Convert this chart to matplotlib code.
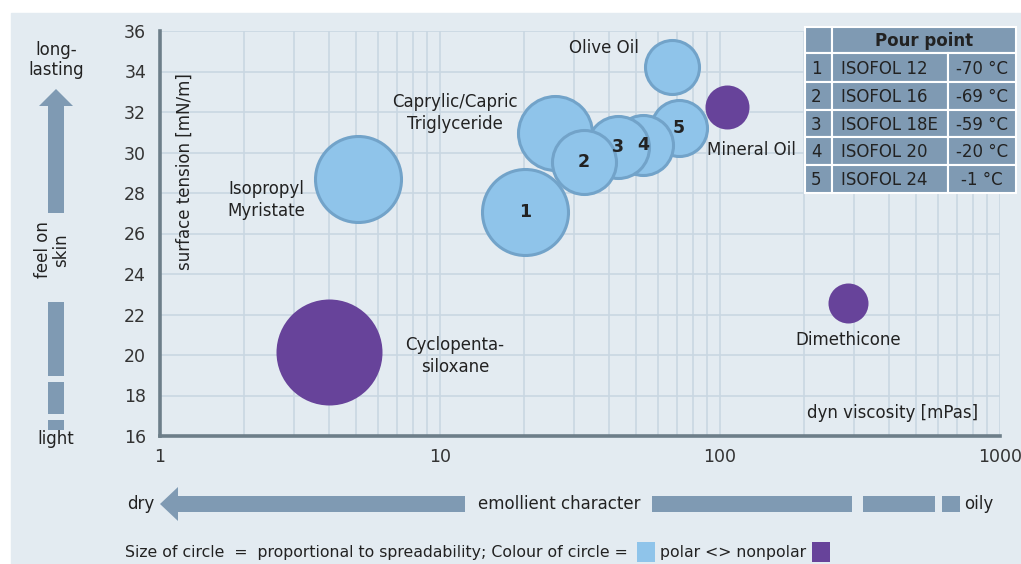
import matplotlib.pyplot as plt
import matplotlib.ticker as ticker
from matplotlib.patches import Rectangle, Polygon

plt.rcParams['font.family'] = ['DejaVu Sans', 'Noto Sans']

# bubbles (drawing order: back to front)
names = ['Isopropyl Myristate', 'Cyclopentasiloxane', 'Caprylic/Capric Triglyceride',
         'ISOFOL 24', 'ISOFOL 20', 'ISOFOL 18E', 'ISOFOL 16', 'ISOFOL 12',
         'Olive Oil', 'Mineral Oil', 'Dimethicone']
viscosity = [5.1, 4.0, 25.7, 71.4, 53.1, 43.2, 32.7, 20.1, 67.4, 106, 286]
tension = [28.7, 20.15, 30.96, 31.21, 30.37, 30.27, 29.53, 27.06, 34.22, 32.25, 22.57]
spread = [43, 53, 37, 28, 30, 31, 32, 43, 27, 22, 20]   # relative circle radius
polar = [True, False, True, True, True, True, True, True, True, False, False]
numbers = ['', '', '', '5', '4', '3', '2', '1', '', '', '']

# pour point table
pp_num = ['1', '2', '3', '4', '5']
pp_name = ['ISOFOL 12', 'ISOFOL 16', 'ISOFOL 18E', 'ISOFOL 20', 'ISOFOL 24']
pp_temp = ['-70 °C', '-69 °C', '-59 °C', '-20 °C', '-1 °C']

x_ticks = [1, 10, 100, 1000]
y_ticks = list(range(16, 37, 2))

LIGHT = '#8fc4ea'
EDGE = '#72a3c9'
PURPLE = '#67439a'
SLATE = '#7f9ab3'
BG = '#e3ebf1'
GRID = '#c9d7e2'
TXT = '#222222'

W, H = 1021, 564
fig = plt.figure(figsize=(W / 100, H / 100), dpi=100)
fig.patch.set_facecolor('white')


def P(x, y):
    return (x / W, 1 - y / H)


fig.add_artist(Rectangle(P(11, 564), (W - 11) / W, (H - 13) / H,
                         transform=fig.transFigure, color=BG, zorder=-5))

ax = fig.add_axes([160 / W, 1 - 436 / H, 840 / W, 405 / H])
ax.set_facecolor('none')
ax.set_xscale('log')
ax.set_xlim(1, 1000)
ax.set_ylim(16, 36)
ax.set_xticks(x_ticks)
ax.xaxis.set_major_formatter(ticker.FuncFormatter(lambda v, p: '%d' % v))
ax.xaxis.set_minor_formatter(ticker.NullFormatter())
ax.set_yticks(y_ticks)
ax.tick_params(which='both', length=0, labelsize=12.5, colors='#333333')
ax.tick_params(axis='y', pad=10)
ax.tick_params(axis='x', pad=9)
ax.grid(which='both', color=GRID, lw=1.2)
ax.set_axisbelow(True)
for s in ['top', 'right']:
    ax.spines[s].set_visible(False)
for s in ['left', 'bottom']:
    ax.spines[s].set_color('#6d7e89')
    ax.spines[s].set_linewidth(2.6)

for i in range(len(names)):
    size = (1.44 * spread[i]) ** 2
    if polar[i]:
        ax.scatter(viscosity[i], tension[i], s=size, color=LIGHT, edgecolor=EDGE,
                   linewidth=2.2, zorder=3 + i, clip_on=False)
    else:
        ax.scatter(viscosity[i], tension[i], s=size, color=PURPLE, linewidth=0,
                   zorder=3 + i, clip_on=False)
    if numbers[i]:
        ax.text(viscosity[i], tension[i], numbers[i], ha='center', va='center',
                fontsize=12.5, fontweight='bold', color=TXT, zorder=20)

lab = dict(fontsize=12, color=TXT, zorder=20)
ax.text(38.5, 35.16, 'Olive Oil', ha='center', va='center', **lab)
ax.text(11.3, 31.95, 'Caprylic/Capric\nTriglyceride', ha='center', va='center',
        linespacing=1.3, **lab)
ax.text(2.39, 27.65, 'Isopropyl\nMyristate', ha='center', va='center',
        linespacing=1.3, **lab)
ax.text(130, 30.12, 'Mineral Oil', ha='center', va='center', **lab)
ax.text(11.3, 19.95, 'Cyclopenta-\nsiloxane', ha='center', va='center',
        linespacing=1.3, **lab)
ax.text(286, 20.74, 'Dimethicone', ha='center', va='center', **lab)
ax.text(415, 17.14, 'dyn viscosity [mPas]', ha='center', va='center', **lab)
ax.text(1.228, 29.04, 'surface tension [mN/m]', ha='center', va='center',
        rotation=90, **lab)

# pour point table
cols = [805, 832, 948, 1016]
rows = [27, 53, 82, 110, 137, 165, 193]


def cell(x0, y0, x1, y1):
    fig.add_artist(Rectangle(P(x0, y1), (x1 - x0) / W, (y1 - y0) / H,
                             transform=fig.transFigure, facecolor=SLATE,
                             edgecolor='white', linewidth=1.5, zorder=30))


cell(cols[0], rows[0], cols[1], rows[1])
cell(cols[1], rows[0], cols[3], rows[1])
fig.text(*P((cols[1] + cols[3]) / 2, (rows[0] + rows[1]) / 2 + 1), 'Pour point',
         ha='center', va='center', fontsize=12, fontweight='bold', color=TXT, zorder=31)
for r in range(5):
    y0, y1 = rows[r + 1], rows[r + 2]
    ym = (y0 + y1) / 2 + 1
    for c in range(3):
        cell(cols[c], y0, cols[c + 1], y1)
    fig.text(*P(cols[0] + 6, ym), pp_num[r], ha='left', va='center', fontsize=12,
             color=TXT, zorder=31)
    fig.text(*P(cols[1] + 9, ym), pp_name[r], ha='left', va='center', fontsize=12,
             color=TXT, zorder=31)
    fig.text(*P((cols[2] + cols[3]) / 2, ym), pp_temp[r], ha='center', va='center',
             fontsize=12, color=TXT, zorder=31)

# feel on skin arrow (left)
fig.add_artist(Polygon([P(48, 213), P(48, 106), P(39, 106), P(56, 89), P(73, 106),
                        P(64, 106), P(64, 213)], closed=True,
                       transform=fig.transFigure, color=SLATE, lw=0))
for y0, y1 in [(302, 376), (382, 414), (420, 430)]:
    fig.add_artist(Rectangle(P(48, y1), 16 / W, (y1 - y0) / H,
                             transform=fig.transFigure, color=SLATE, lw=0))
fig.text(*P(56, 60), 'long-\nlasting', ha='center', va='center', fontsize=12,
         color=TXT, linespacing=1.2)
fig.text(*P(52, 250), 'feel on\nskin', ha='center', va='center', fontsize=12,
         color=TXT, rotation=90, linespacing=1.0)
fig.text(*P(56, 439), 'light', ha='center', va='center', fontsize=12, color=TXT)

# emollient character arrow (bottom)
fig.add_artist(Polygon([P(465, 496), P(178, 496), P(178, 487), P(160, 504),
                        P(178, 521), P(178, 512), P(465, 512)], closed=True,
                       transform=fig.transFigure, color=SLATE, lw=0))
for x0, x1 in [(652, 852), (863, 935), (942, 960)]:
    fig.add_artist(Rectangle(P(x0, 512), (x1 - x0) / W, 16 / H,
                             transform=fig.transFigure, color=SLATE, lw=0))
fig.text(*P(141, 504), 'dry', ha='center', va='center', fontsize=12, color=TXT)
fig.text(*P(559, 504), 'emollient character', ha='center', va='center',
         fontsize=12, color=TXT)
fig.text(*P(964, 504), 'oily', ha='left', va='center', fontsize=12, color=TXT)

# legend line
fig.canvas.draw()
renderer = fig.canvas.get_renderer()
t1 = fig.text(*P(125, 552), 'Size of circle  =  proportional to spreadability; Colour of circle = ',
              ha='left', va='center', fontsize=11.3, color=TXT)
x_end = t1.get_window_extent(renderer).x1 / fig.dpi * 100
fig.add_artist(Rectangle(P(x_end + 4, 562), 18 / W, 20 / H,
                         transform=fig.transFigure, color=LIGHT, lw=0))
t2 = fig.text(*P(x_end + 27, 552), 'polar <> nonpolar', ha='left', va='center',
              fontsize=11.3, color=TXT)
x_end2 = t2.get_window_extent(renderer).x1 / fig.dpi * 100
fig.add_artist(Rectangle(P(x_end2 + 6, 562), 18 / W, 20 / H,
                         transform=fig.transFigure, color=PURPLE, lw=0))

fig.savefig('out.png', dpi=100)
